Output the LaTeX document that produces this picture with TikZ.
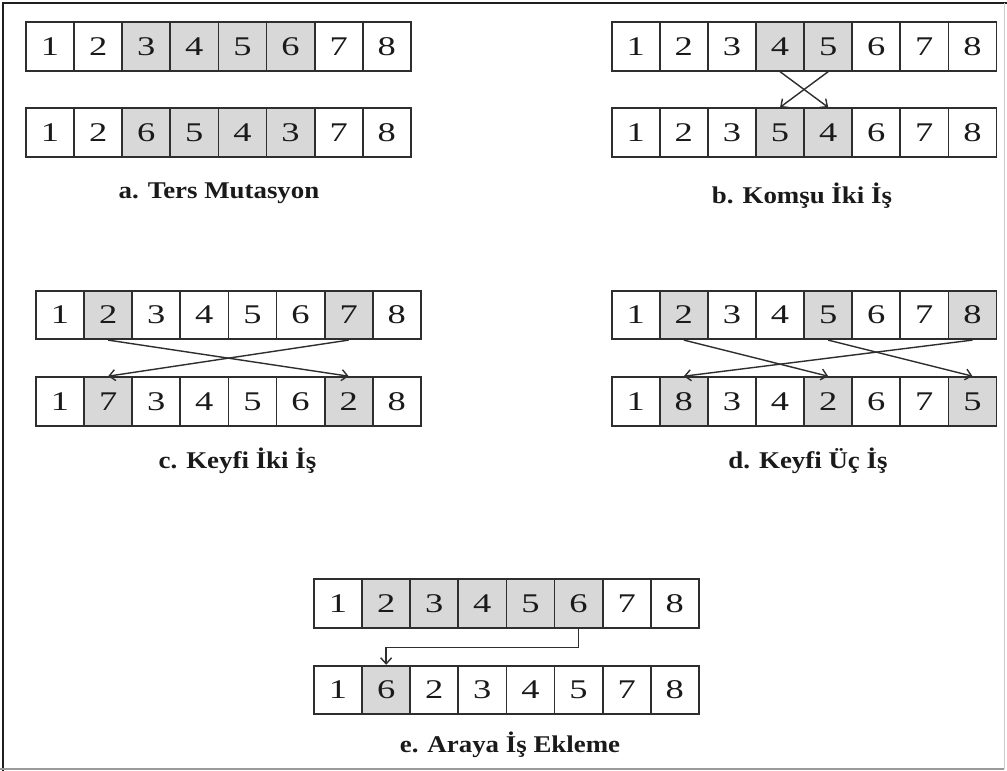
\documentclass[tikz,border=0pt]{standalone}
\usepackage{fontspec}
\setmainfont{Liberation Serif}
\newfontfamily\digitfont[FakeStretch=1.35]{Liberation Serif}
\newfontfamily\capfont[FakeStretch=1.12,BoldFont={Liberation Serif Bold}]{Liberation Serif}
\usetikzlibrary{arrows.meta}
\definecolor{cellgray}{HTML}{D8D8D8}
\definecolor{linegray}{HTML}{2E2E2E}
\definecolor{digitcol}{HTML}{1A1A1A}
\definecolor{framedark}{HTML}{1E1E1E}
\definecolor{framelight}{HTML}{9A9A9A}
\newcommand\cellrow[4]{%
  \foreach \v/\h [count=\i] in {#4} {
    \node[cell, fill=\h] (#1\i) at ({#2+48.1*(\i-0.5)}, #3) {\raisebox{-2pt}{\v}};
  }}
\begin{document}
\begin{tikzpicture}[x=1pt,y=-1pt,
  cell/.style={draw=linegray, line width=1.8pt, minimum width=48.1pt, minimum height=48.6pt,
    inner sep=0pt, font=\digitfont\fontsize{27}{27}\selectfont, text=digitcol},
  conn/.style={draw=linegray, line width=1.4pt, -{Straight Barb[length=6pt,width=11pt]}},
  captext/.style={font=\capfont\bfseries\fontsize{24}{24}\selectfont, anchor=base, text=digitcol, inner sep=0pt}]
\useasboundingbox[fill=white] (0,0) rectangle (1007,771);
% frame
\draw[line width=2pt, framedark] (3,771) -- (3,3) -- (1007,3);
\draw[line width=1.5pt, framelight] (0,769) -- (1004,769);
\draw[line width=1pt, black!20] (1004,3) -- (1004,769);
% panel a
\cellrow{at}{26}{46.5}{1/white,2/white,3/cellgray,4/cellgray,5/cellgray,6/cellgray,7/white,8/white}
\cellrow{ab}{26}{132.5}{1/white,2/white,6/cellgray,5/cellgray,4/cellgray,3/cellgray,7/white,8/white}
\node[captext] (la) at (219,198) {a. Ters Mutasyon};
% panel b
\cellrow{bt}{611.7}{46.5}{1/white,2/white,3/white,4/cellgray,5/cellgray,6/white,7/white,8/white}
\cellrow{bb}{611.7}{132.5}{1/white,2/white,3/white,5/cellgray,4/cellgray,6/white,7/white,8/white}
\draw[conn] (bt4.south) -- (bb5.north);
\draw[conn] (bt5.south) -- (bb4.north);
\node[captext] (lb) at (802,203) {b. Komşu İki İş};
% panel c
\cellrow{ct}{36}{314.9}{1/white,2/cellgray,3/white,4/white,5/white,6/white,7/cellgray,8/white}
\cellrow{cb}{36}{401.4}{1/white,7/cellgray,3/white,4/white,5/white,6/white,2/cellgray,8/white}
\draw[conn] (ct2.south) -- (cb7.north);
\draw[conn] (ct7.south) -- (cb2.north);
\node[captext] (lc) at (237.5,468) {c. Keyfi İki İş};
% panel d
\cellrow{dt}{611.7}{314.9}{1/white,2/cellgray,3/white,4/white,5/cellgray,6/white,7/white,8/cellgray}
\cellrow{db}{611.7}{401.4}{1/white,8/cellgray,3/white,4/white,2/cellgray,6/white,7/white,5/cellgray}
\draw[conn] (dt2.south) -- (db5.north);
\draw[conn] (dt5.south) -- (db8.north);
\draw[conn] (dt8.south) -- (db2.north);
\node[captext] (ld) at (808,468) {d. Keyfi Üç İş};
% panel e
\cellrow{et}{314}{603.4}{1/white,2/cellgray,3/cellgray,4/cellgray,5/cellgray,6/cellgray,7/white,8/white}
\cellrow{eb}{314}{690}{1/white,6/cellgray,2/white,3/white,4/white,5/white,7/white,8/white}
\draw[conn] (et6.south) -- ++(0,19) -| (eb2.north);
\node[captext] (le) at (510,752) {e. Araya İş Ekleme};
\end{tikzpicture}
\end{document}
